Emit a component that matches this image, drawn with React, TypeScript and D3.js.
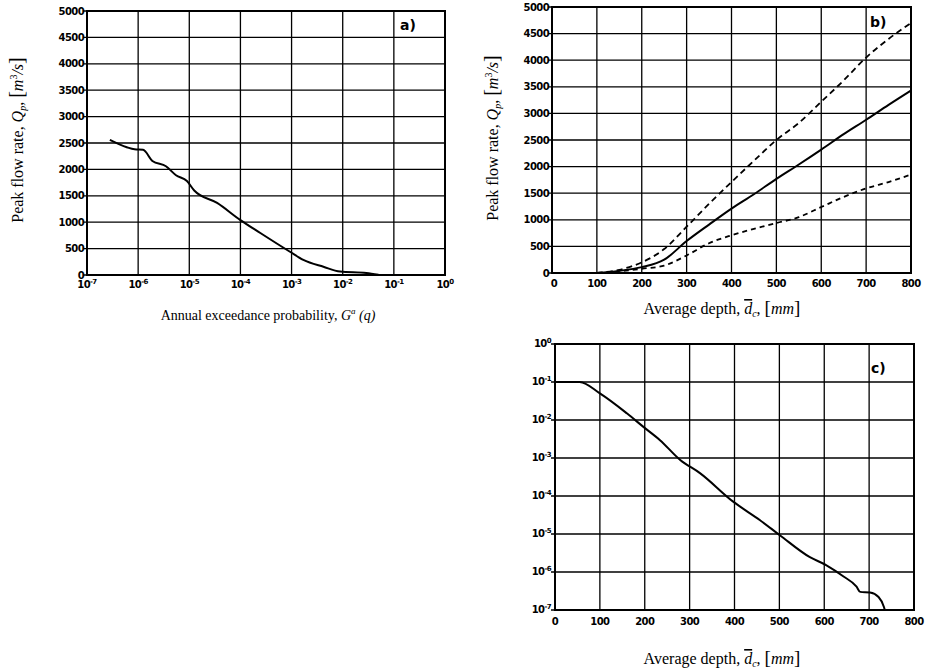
import React from 'react';
import * as d3 from 'd3';

// panel a) peak flow vs annual exceedance probability
const aProb = [2.8e-7, 6.0e-7, 8.5e-7, 1.25e-6, 1.9e-6, 3.5e-6, 5.5e-6, 9.0e-6, 1.25e-5, 3.5e-5, 1.0e-4, 2.45e-4, 9.3e-4, 1.7e-3, 4.2e-3, 8.9e-3, 2.9e-2, 5.0e-2];
const aPeak = [2560, 2420, 2380, 2370, 2160, 2060, 1890, 1780, 1600, 1365, 1040, 795, 440, 285, 155, 65, 40, 5];

// panel b) peak flow vs average depth, mean and two bounds
const bDepth = [100, 150, 200, 250, 300, 350, 400, 450, 500, 550, 600, 650, 700, 750, 800];
const bMean = [0, 40, 110, 250, 600, 910, 1210, 1480, 1770, 2040, 2320, 2610, 2880, 3160, 3430];
const bUpper = [0, 60, 200, 450, 870, 1300, 1710, 2110, 2500, 2820, 3220, 3620, 4050, 4400, 4700];
const bLower = [0, 30, 80, 140, 330, 560, 710, 830, 940, 1050, 1240, 1430, 1590, 1710, 1850];

// panel c) exceedance probability vs average depth
const cDepth = [0, 55, 100, 160, 197, 234, 279, 323, 397, 457, 501, 568, 605, 643, 672, 680, 702, 721, 733, 735];
const cProb = [0.1, 0.1, 0.05, 0.015, 6.6e-3, 2.95e-3, 8.9e-4, 4.0e-4, 7.1e-5, 2.3e-5, 9.3e-6, 2.45e-6, 1.5e-6, 7.6e-7, 4.1e-7, 3.0e-7, 2.9e-7, 2.2e-7, 1.2e-7, 1e-7];

const flowTicks = [0, 500, 1000, 1500, 2000, 2500, 3000, 3500, 4000, 4500, 5000];
const depthTicks = [0, 100, 200, 300, 400, 500, 600, 700, 800];
const expTicks = [-7, -6, -5, -4, -3, -2, -1, 0];

const tickFont = '"DejaVu Sans", sans-serif';
const titleFont = '"Liberation Serif", "DejaVu Serif", serif';

const Pow = ({ x, y, e, anchor = 'middle' }: { x: number; y: number; e: number; anchor?: string }) => (
  <text x={x} y={y} textAnchor={anchor} fontFamily={tickFont} fontWeight="bold" fontSize={10} letterSpacing={-0.6}>
    10<tspan dy={-4} fontSize={7}>{e === 0 ? '0' : '-' + Math.abs(e)}</tspan>
  </text>
);

const YTitle = ({ x, y }: { x: number; y: number }) => (
  <text transform={`translate(${x},${y}) rotate(-90)`} textAnchor="middle" fontFamily={titleFont} fontSize={16}>
    Peak flow rate, <tspan fontStyle="italic">Q</tspan><tspan fontStyle="italic" fontSize={10} dy={3}>p</tspan>
    <tspan dy={-3}>, </tspan><tspan fontSize={20}>[</tspan><tspan fontStyle="italic">m</tspan><tspan fontSize={10} dy={-6}>3</tspan>
    <tspan dy={6} fontStyle="italic">/s</tspan><tspan fontSize={20}>]</tspan>
  </text>
);

const DepthTitle = ({ x, y }: { x: number; y: number }) => (
  <text x={x} y={y} textAnchor="middle" fontFamily={titleFont} fontSize={16}>
    Average depth, <tspan fontStyle="italic" style={{ textDecoration: 'overline' }}>d</tspan>
    <tspan fontStyle="italic" fontSize={10} dy={3}>c</tspan><tspan dy={-3}>, </tspan><tspan fontSize={19}>[</tspan>
    <tspan fontStyle="italic">mm</tspan><tspan fontSize={19}>]</tspan>
  </text>
);

const Frame = ({ x0, x1, y0, y1 }: { x0: number; x1: number; y0: number; y1: number }) => (
  <rect x={x0} y={y0} width={x1 - x0} height={y1 - y0} fill="none" stroke="#000" strokeWidth={2} />
);

const App = () => {
  // panel a
  const ax = d3.scaleLog().domain([1e-7, 1]).range([87, 445]);
  const ay = d3.scaleLinear().domain([0, 5000]).range([275, 11]);
  const aLine = d3.line<number>().x((d, i) => ax(aProb[i])).y(d => ay(d)).curve(d3.curveMonotoneX);

  // panel b
  const bx = d3.scaleLinear().domain([0, 800]).range([552, 911]);
  const by = d3.scaleLinear().domain([0, 5000]).range([273, 7]);
  const bLine = d3.line<number>().x((d, i) => bx(bDepth[i])).y(d => by(d)).curve(d3.curveMonotoneX);

  // panel c
  const cx = d3.scaleLinear().domain([0, 800]).range([555, 914]);
  const cy = d3.scaleLog().domain([1e-7, 1]).range([610, 344]);
  const cLine = d3.line<number>().x(d => cx(d)).y((d, i) => cy(cProb[i])).curve(d3.curveMonotoneX);

  const grid = { stroke: '#000', strokeWidth: 1.3 };

  return (
    <svg width={926} height={672} style={{ position: 'absolute', left: 0, top: 0, background: '#fff' }}>
      {/* ---- a) ---- */}
      <g>
        {expTicks.map(e => (
          <g key={e}>
            <line x1={ax(10 ** e)} x2={ax(10 ** e)} y1={ay(5000)} y2={ay(0)} {...grid} />
            <Pow x={ax(10 ** e)} y={288} e={e} />
          </g>
        ))}
        {flowTicks.map(v => (
          <g key={v}>
            <line x1={83} x2={ax(1)} y1={ay(v)} y2={ay(v)} {...grid} />
            <text x={84} y={ay(v) + 3.5} textAnchor="end" fontFamily={tickFont} fontWeight="bold" fontSize={10} letterSpacing={-0.6}>{v}</text>
          </g>
        ))}
        <Frame x0={87} x1={445} y0={11} y1={275} />
        <path d={aLine(aPeak) || ''} fill="none" stroke="#000" strokeWidth={2} />
        <text x={400} y={30} fontFamily={tickFont} fontWeight="bold" fontSize={14}>a)</text>
        <YTitle x={23} y={140} />
        <text x={268} y={320} textAnchor="middle" fontFamily={titleFont} fontSize={14}>
          Annual exceedance probability, <tspan fontStyle="italic">G</tspan>
          <tspan fontStyle="italic" fontSize={9} dy={-6}>a</tspan>
          <tspan fontStyle="italic" dy={6}> (q)</tspan>
        </text>
      </g>

      {/* ---- b) ---- */}
      <g>
        {depthTicks.map(v => (
          <g key={v}>
            <line x1={bx(v)} x2={bx(v)} y1={by(5000)} y2={by(0)} {...grid} />
            <text x={bx(v) + (v === 0 ? 2 : 0)} y={287} textAnchor="middle" fontFamily={tickFont} fontWeight="bold" fontSize={10} letterSpacing={-0.6}>{v}</text>
          </g>
        ))}
        {flowTicks.map(v => (
          <g key={v}>
            <line x1={548} x2={bx(800)} y1={by(v)} y2={by(v)} {...grid} />
            <text x={549} y={by(v) + 3.5} textAnchor="end" fontFamily={tickFont} fontWeight="bold" fontSize={10} letterSpacing={-0.6}>{v}</text>
          </g>
        ))}
        <Frame x0={552} x1={911} y0={7} y1={273} />
        <path d={bLine(bUpper) || ''} fill="none" stroke="#000" strokeWidth={1.8} strokeDasharray="6,4" />
        <path d={bLine(bLower) || ''} fill="none" stroke="#000" strokeWidth={1.8} strokeDasharray="5,4" />
        <path d={bLine(bMean) || ''} fill="none" stroke="#000" strokeWidth={2} />
        <text x={870} y={27} fontFamily={tickFont} fontWeight="bold" fontSize={14}>b)</text>
        <YTitle x={498} y={138} />
        <DepthTitle x={722} y={314} />
      </g>

      {/* ---- c) ---- */}
      <g>
        {depthTicks.map(v => (
          <g key={v}>
            <line x1={cx(v)} x2={cx(v)} y1={cy(1)} y2={cy(1e-7)} {...grid} />
            <text x={cx(v)} y={625} textAnchor="middle" fontFamily={tickFont} fontWeight="bold" fontSize={10} letterSpacing={-0.6}>{v}</text>
          </g>
        ))}
        {expTicks.map(e => (
          <g key={e}>
            <line x1={551} x2={cx(800)} y1={cy(10 ** e)} y2={cy(10 ** e)} {...grid} />
            <Pow x={551} y={cy(10 ** e) + 3} e={e} anchor="end" />
          </g>
        ))}
        <Frame x0={555} x1={914} y0={344} y1={610} />
        <path d={cLine(cDepth) || ''} fill="none" stroke="#000" strokeWidth={2} />
        <text x={871} y={373} fontFamily={tickFont} fontWeight="bold" fontSize={14}>c)</text>
        <DepthTitle x={722} y={664} />
      </g>
    </svg>
  );
};

export default App;
